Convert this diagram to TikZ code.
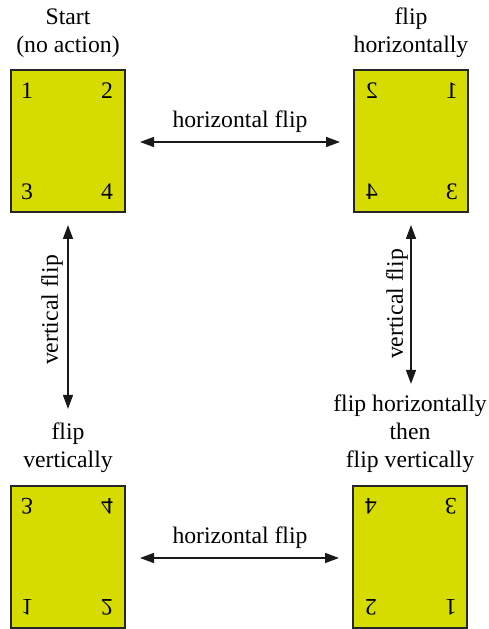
\documentclass[tikz,border=0pt]{standalone}
\usepackage{fontspec}
\newfontfamily\tnr{Liberation Serif}
\setmainfont{Liberation Serif}
\usetikzlibrary{arrows.meta,calc}
\definecolor{cardfill}{RGB}{214,220,0}
\newcommand\myfnt{\tnr\fontsize{23.7}{28}\selectfont}
\newcommand\carddigits[1]{%
  \node[digit] (#1-1) at (-41,50) {1};
  \node[digit] (#1-2) at (39,50) {2};
  \node[digit] (#1-3) at (-41,-51) {3};
  \node[digit] (#1-4) at (39,-51) {4};
}
\tikzset{
  card/.style={draw=black!85, fill=cardfill, line width=1.3pt, minimum width=114pt, minimum height=142pt, inner sep=0pt, outer sep=0pt},
  digit/.style={inner sep=0pt, font=\myfnt},
  lab/.style={inner sep=0pt, align=center, text depth=0pt, anchor=south, font=\myfnt},
  alab/.style={inner sep=0pt, font=\myfnt},
  arr/.style={{Triangle[length=14pt,width=10pt]}-{Triangle[length=14pt,width=10pt]}, line width=1.5pt, draw=black!90}
}
\begin{document}
\begin{tikzpicture}[x=1pt,y=1pt]
\useasboundingbox (0,0) rectangle (488,629);
% cards
\node[card] (tl) at (68,488) {};
\node[card] (tr) at (411,488) {};
\node[card] (bl) at (68,72) {};
\node[card] (br) at (410,72) {};
\begin{scope}[shift={(68,488)}]
  \carddigits{tl}
\end{scope}
\begin{scope}[shift={(411,488)}, xscale=-1, transform shape]
  \carddigits{tr}
\end{scope}
\begin{scope}[shift={(68,72)}, yscale=-1, transform shape]
  \carddigits{bl}
\end{scope}
\begin{scope}[shift={(410,72)}, xscale=-1, yscale=-1, transform shape]
  \carddigits{br}
\end{scope}
% titles
\node[lab] (tllab) at (68,576) {Start\\(no action)};
\node[lab] (trlab) at (411,576) {flip\\horizontally};
\node[lab] (bllab) at (68,161) {flip\\vertically};
\node[lab] (brlab) at (410,161) {flip horizontally\\then\\flip vertically};
% arrow labels
\node[alab, anchor=base] (hlab1) at (240,501) {horizontal flip};
\node[alab, anchor=base] (hlab2) at (240,85) {horizontal flip};
\node[alab, rotate=90] (vlab1) at (52,319) {vertical flip};
\node[alab, rotate=90] (vlab2) at (397,325) {vertical flip};
% arrows
\draw[arr] ($(tl.east)+(15,-1)$) -- ($(tr.west)+(-14,-1)$);
\draw[arr] ($(bl.east)+(15,-1)$) -- ($(br.west)+(-14,-1)$);
\draw[arr] ($(tl.south)+(0,-13)$) -- ($(bllab.north)+(0,14)$);
\draw[arr] ($(tr.south)+(0,-13)$) -- ($(brlab.north -| tr.south)+(0,11)$);
\end{tikzpicture}
\end{document}
